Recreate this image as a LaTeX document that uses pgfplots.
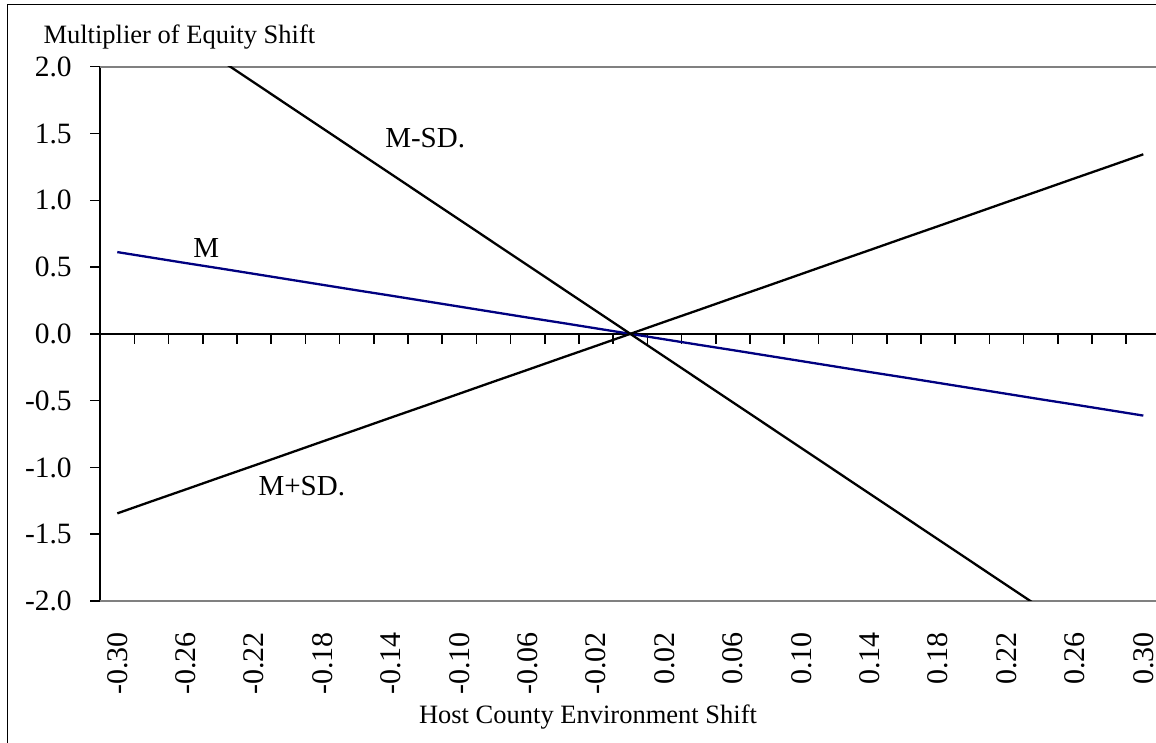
\documentclass[border=0pt]{standalone}
\usepackage{fontspec}
\setmainfont{Liberation Serif}
\usepackage{pgfplots}
\usepackage{pgfplotstable}
\pgfplotsset{compat=1.18}
\definecolor{navyline}{RGB}{0,0,128}
\definecolor{gridgray}{RGB}{128,128,128}

\pgfplotstableread{
x      M       Mp      Mm
-0.30  0.612  -1.344   2.565
-0.28  0.571  -1.254   2.394
-0.26  0.530  -1.165   2.223
-0.24  0.490  -1.075   2.052
-0.22  0.449  -0.986   1.881
-0.20  0.408  -0.896   1.710
-0.18  0.367  -0.806   1.539
-0.16  0.326  -0.717   1.368
-0.14  0.286  -0.627   1.197
-0.12  0.245  -0.538   1.026
-0.10  0.204  -0.448   0.855
-0.08  0.163  -0.358   0.684
-0.06  0.122  -0.269   0.513
-0.04  0.082  -0.179   0.342
-0.02  0.041  -0.090   0.171
 0.00  0.000   0.000   0.000
 0.02 -0.041   0.090  -0.171
 0.04 -0.082   0.179  -0.342
 0.06 -0.122   0.269  -0.513
 0.08 -0.163   0.358  -0.684
 0.10 -0.204   0.448  -0.855
 0.12 -0.245   0.538  -1.026
 0.14 -0.286   0.627  -1.197
 0.16 -0.326   0.717  -1.368
 0.18 -0.367   0.806  -1.539
 0.20 -0.408   0.896  -1.710
 0.22 -0.449   0.986  -1.881
 0.24 -0.490   1.075  -2.052
 0.26 -0.530   1.165  -2.223
 0.28 -0.571   1.254  -2.394
 0.30 -0.612   1.344  -2.565
}\datatable

\begin{document}
\begin{tikzpicture}
\useasboundingbox (0pt,0pt) rectangle (1156pt,743pt);
\draw[line width=1pt] (7.3pt,-20pt) -- (7.3pt,738pt) -- (1180pt,738pt);
\begin{axis}[
  at={(100.2pt,142pt)}, anchor=south west,
  scale only axis, width=1055.8pt, height=534.3pt,
  xmin=-0.31, xmax=0.3074, ymin=-2, ymax=2,
  axis x line*=middle, axis y line*=left,
  axis line style={line width=2pt, black},
  tick align=outside,
  hide obscured x ticks=false, hide obscured y ticks=false,
  xtick={-0.30,-0.26,-0.22,-0.18,-0.14,-0.10,-0.06,-0.02,0.02,0.06,0.10,0.14,0.18,0.22,0.26,0.30},
  xticklabels={-0.30,-0.26,-0.22,-0.18,-0.14,-0.10,-0.06,-0.02,0.02,0.06,0.10,0.14,0.18,0.22,0.26,0.30},
  minor xtick={-0.29,-0.27,-0.25,-0.23,-0.21,-0.19,-0.17,-0.15,-0.13,-0.11,-0.09,-0.07,-0.05,-0.03,-0.01,0.01,0.03,0.05,0.07,0.09,0.11,0.13,0.15,0.17,0.19,0.21,0.23,0.25,0.27,0.29},
  ytick={-2,-1.5,-1,-0.5,0,0.5,1,1.5,2},
  yticklabels={-2.0,-1.5,-1.0,-0.5,0.0,0.5,1.0,1.5,2.0},
  major tick length=10pt, minor tick length=10pt,
  major x tick style={draw=none},
  minor x tick style={line width=1.5pt, black},
  major y tick style={line width=1.5pt, black},
  extra y ticks={-2,2}, extra y tick labels={},
  extra y tick style={grid=major, major tick length=0pt},
  major grid style={gridgray, line width=2pt},
  xticklabel style={font=\fontsize{30}{36}\selectfont, inner sep=0pt, yshift=-288pt, rotate=90, anchor=east},
  yticklabel style={font=\fontsize{29.5}{35}\selectfont, inner sep=0pt, xshift=-18.3pt, anchor=east},
  xlabel={Host County Environment Shift},
  ylabel={Multiplier of Equity Shift},
  every axis x label/.style={at={(axis description cs:0.462,-0.2302)}, anchor=base, font=\fontsize{26.5}{32}\selectfont},
  every axis y label/.style={at={(axis description cs:-0.0570,1.0425)}, anchor=base west, font=\fontsize{26.5}{32}\selectfont},
]
\addplot[navyline, line width=2.3pt] table[x=x, y=M] {\datatable};
\addplot[black, line width=2.3pt] table[x=x, y=Mp] {\datatable};
\addplot[black, line width=2.3pt] table[x=x, y=Mm] {\datatable};
\node[anchor=base west, inner sep=0pt, font=\fontsize{29}{35}\selectfont] at (axis cs:-0.1434,1.397) {M-SD.};
\node[anchor=base west, inner sep=0pt, font=\fontsize{29}{35}\selectfont] at (axis cs:-0.2557,0.574) {M};
\node[anchor=base west, inner sep=0pt, font=\fontsize{29}{35}\selectfont] at (axis cs:-0.2175,-1.207) {M+SD.};
\end{axis}
\end{tikzpicture}
\end{document}
